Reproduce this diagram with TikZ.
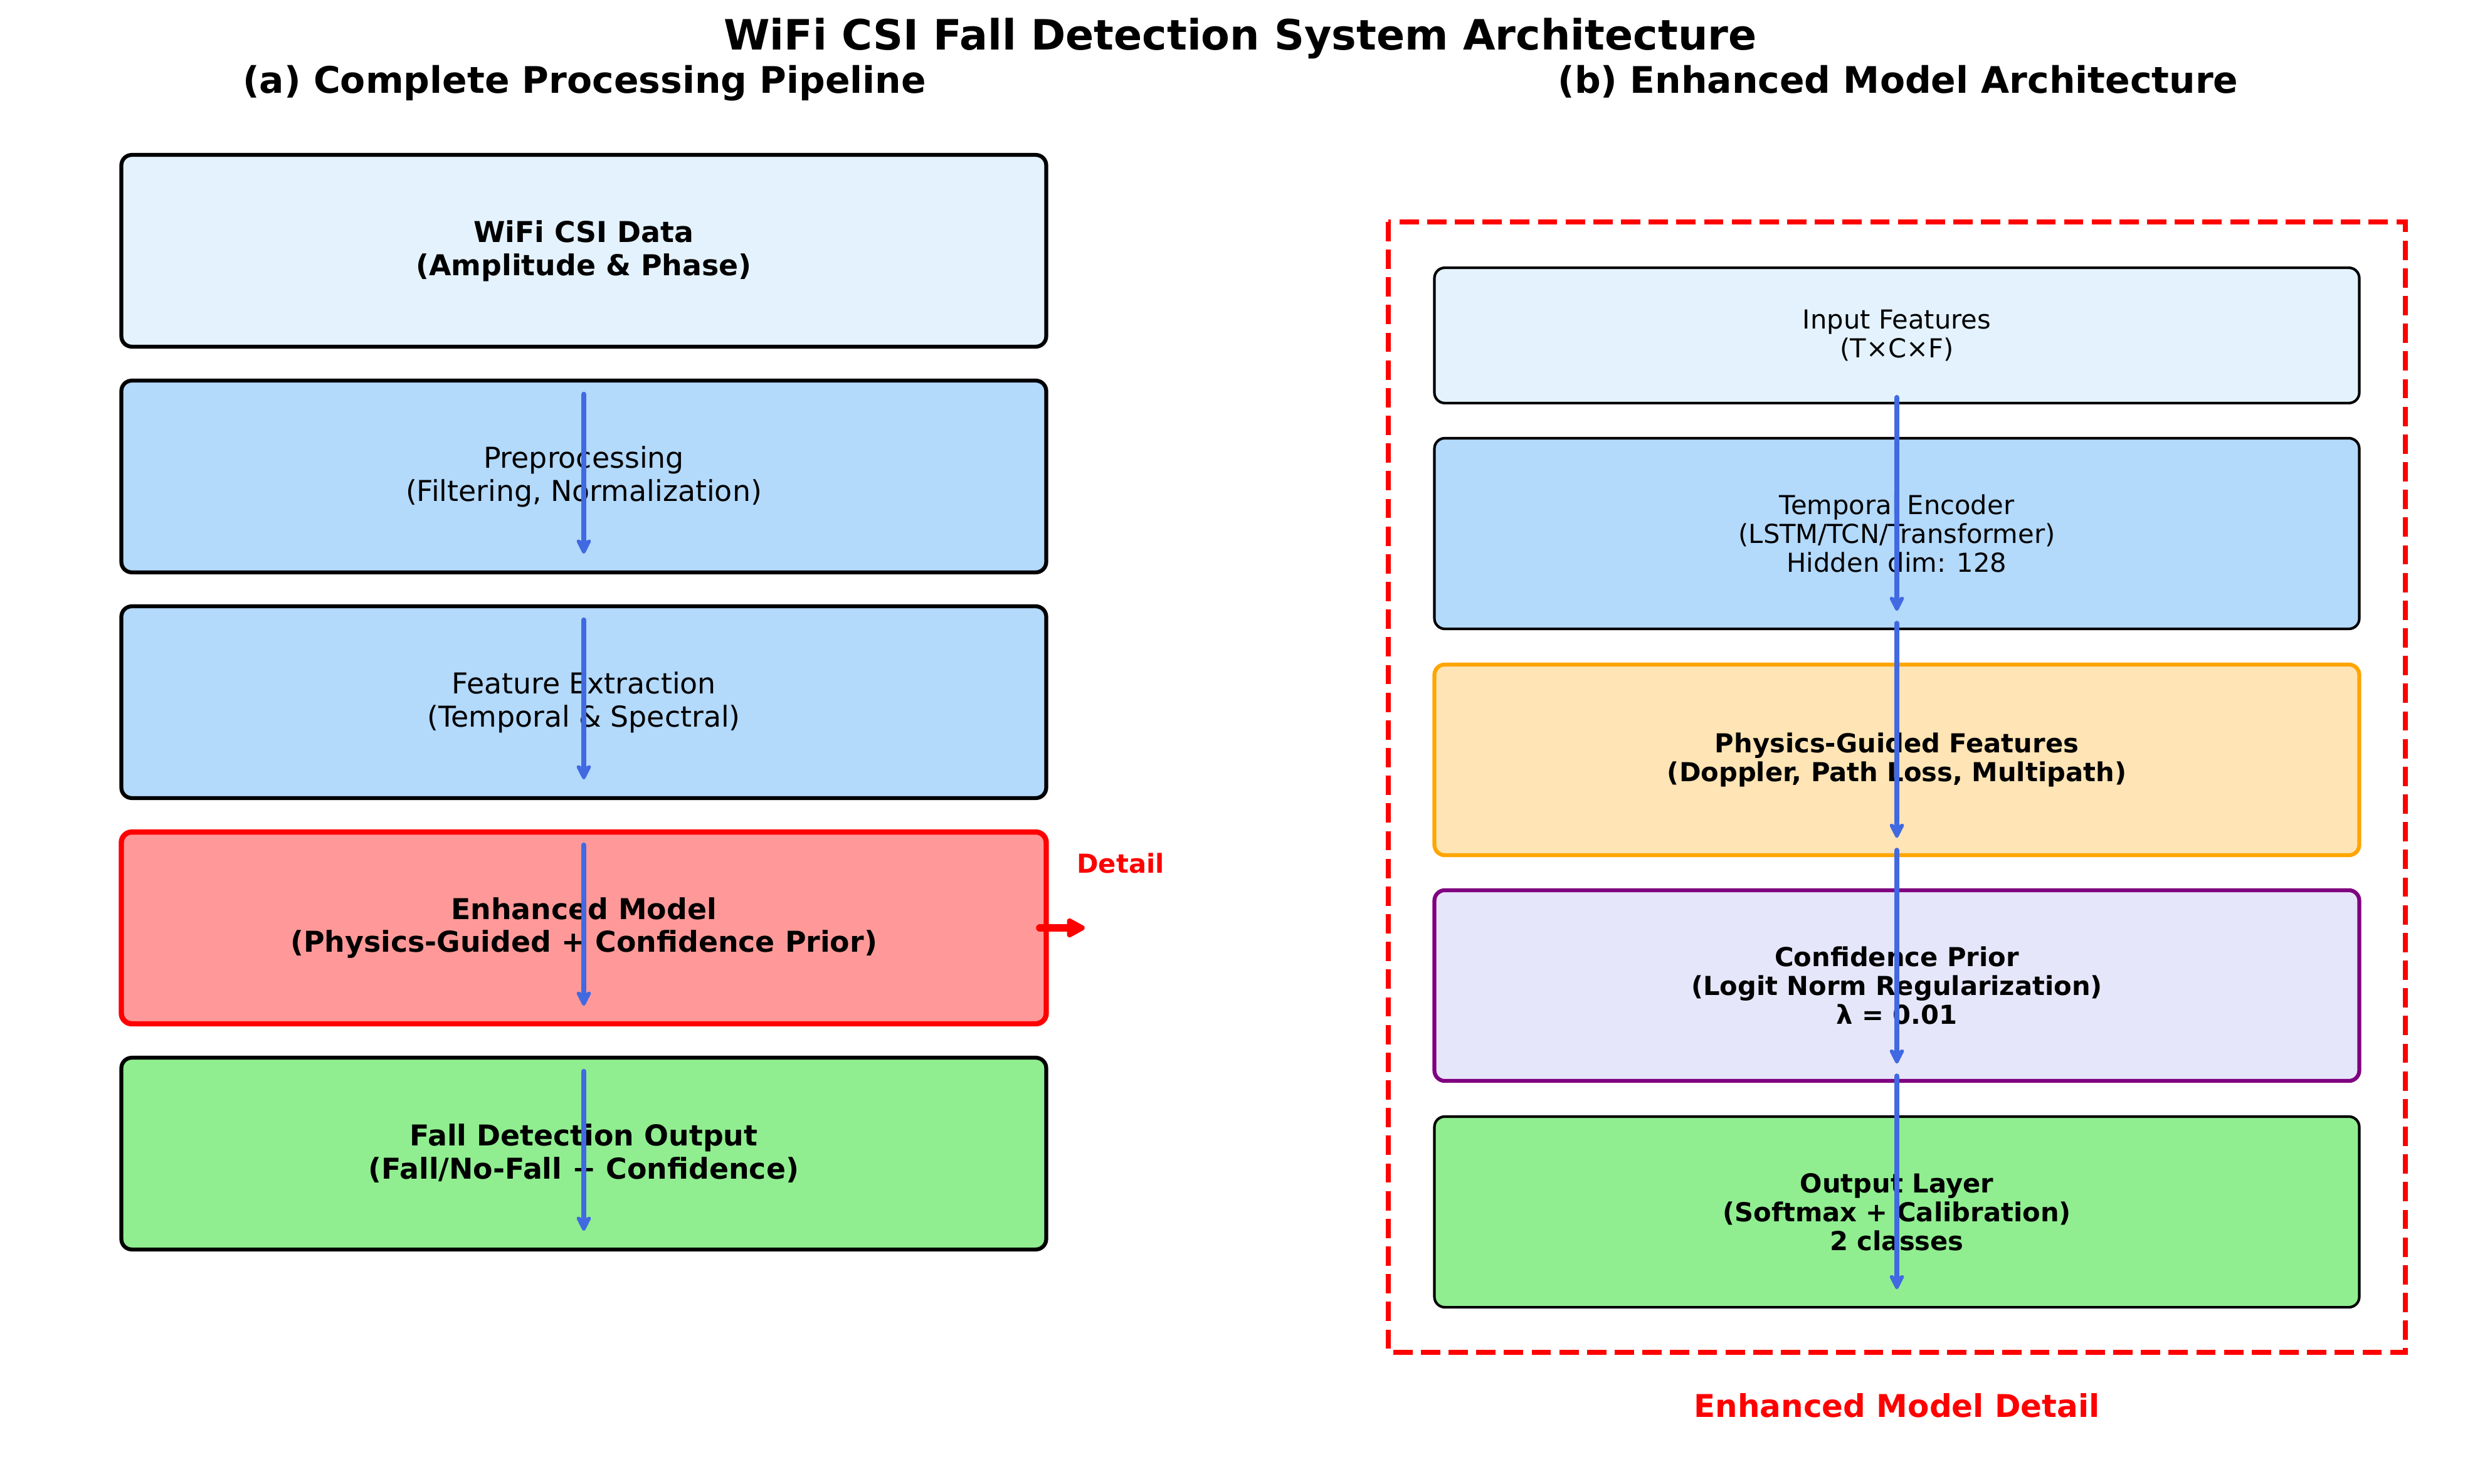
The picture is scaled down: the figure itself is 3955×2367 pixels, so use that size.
\documentclass[tikz,border=0pt]{standalone}
\usepackage{fontspec}
\setmainfont{DejaVu Sans}
\usepackage{xcolor}
\usepackage{tikz}
\usetikzlibrary{arrows.meta}

\definecolor{paleblue}{HTML}{E3F2FD}
\definecolor{midblue}{HTML}{B3D9FB}
\definecolor{salmonred}{HTML}{FF9999}
\definecolor{mintgreen}{HTML}{90EE90}
\definecolor{wheatish}{HTML}{FFE4B5}
\definecolor{lavish}{HTML}{E6E6FA}
\definecolor{amber}{HTML}{FFA500}
\definecolor{mauve}{HTML}{800080}
\definecolor{royal}{HTML}{4169E1}

\tikzset{
  stage/.style={draw=black, line width=1.5pt, rounded corners=4pt,
    minimum width=354pt, minimum height=73.4pt, align=center,
    font=\fontsize{11}{12.7}\selectfont},
  stagebold/.style={stage, font=\fontsize{11}{12.7}\selectfont\bfseries},
  layer/.style={draw=black, line width=1pt, rounded corners=4pt,
    minimum width=354pt, minimum height=73pt, align=center,
    font=\fontsize{10}{11}\selectfont},
  layerbold/.style={layer, font=\fontsize{10}{11}\selectfont\bfseries},
  flow/.style={royal, line width=2pt, line cap=round, ->},
}

\begin{document}
\begin{tikzpicture}[x=0.24pt,y=-0.24pt]
\useasboundingbox (0,0) rectangle (3955,2367);
\begin{scope}[>={Stealth[length=7pt,width=7pt,inset=1.8pt,round]}]

    \node[anchor=base, font=\fontsize{16}{19}\selectfont\bfseries] (title) at (1978,80)
        {WiFi CSI Fall Detection System Architecture};
    \node[anchor=base, font=\fontsize{14}{17}\selectfont\bfseries] (suba) at (932,149)
        {(a) Complete Processing Pipeline};
    \node[anchor=base, font=\fontsize{14}{17}\selectfont\bfseries] (subb) at (3027,149)
        {(b) Enhanced Model Architecture};

    \node[stagebold, fill=paleblue] (csi) at (931,400) {WiFi CSI Data\\(Amplitude \& Phase)};
    \node[stage, fill=midblue] (prep) at (931,760) {Preprocessing\\(Filtering, Normalization)};
    \node[stage, fill=midblue] (feat) at (931,1120) {Feature Extraction\\(Temporal \& Spectral)};
    \node[stagebold, fill=salmonred, draw=red, line width=2pt] (model) at (931,1480)
        {Enhanced Model\\(Physics-Guided + Confidence Prior)};
    \node[stagebold, fill=mintgreen] (output) at (931,1840)
        {Fall Detection Output\\(Fall/No-Fall + Confidence)};

    \foreach \b in {prep,feat,model,output}
        \draw[flow] ([yshift=-6pt]\b.north) -- ([yshift=7.9pt]\b.south);

    \coordinate (dtl) at ([xshift=13.7pt]model.east);
    \draw[red, line width=3pt, line cap=round, -{Triangle[length=8pt,width=8pt,round]}]
        ([xshift=-3.4pt]model.east) -- (dtl);
    \node[anchor=base, red, font=\fontsize{10}{12}\selectfont\bfseries] (detail) at (1787,1392) {Detail};

    \draw[red, line width=2pt, dash pattern=on 7.4pt off 3.2pt] (2214,354) rectangle (3836,2157);

    \node[layer, fill=paleblue, minimum height=51.8pt] (infeat) at (3025,535)
        {Input Features\\(T×C×F)};
    \node[layer, fill=midblue] (tenc) at (3025,851)
        {Temporal Encoder\\(LSTM/TCN/Transformer)\\Hidden dim: 128};
    \node[layerbold, fill=wheatish, draw=amber, line width=1.5pt] (phys) at (3025,1212)
        {Physics-Guided Features\\(Doppler, Path Loss, Multipath)};
    \node[layerbold, fill=lavish, draw=mauve, line width=1.5pt] (conf) at (3025,1572)
        {Confidence Prior\\(Logit Norm Regularization)\\λ = 0.01};
    \node[layerbold, fill=mintgreen] (outlayer) at (3025,1933)
        {Output Layer\\(Softmax + Calibration)\\2 classes};

    \draw[flow] ([yshift=2.6pt]infeat.south) -- ([yshift=7.4pt]tenc.south);
    \draw[flow] ([yshift=2.6pt]tenc.south) -- ([yshift=7.4pt]phys.south);
    \draw[flow] ([yshift=2.6pt]phys.south) -- ([yshift=7.4pt]conf.south);
    \draw[flow] ([yshift=2.6pt]conf.south) -- ([yshift=7.4pt]outlayer.south);

    \node[anchor=base, red, font=\fontsize{12}{14}\selectfont\bfseries] (caption) at (3025,2260)
        {Enhanced Model Detail};
\end{scope}
\end{tikzpicture}
\end{document}
